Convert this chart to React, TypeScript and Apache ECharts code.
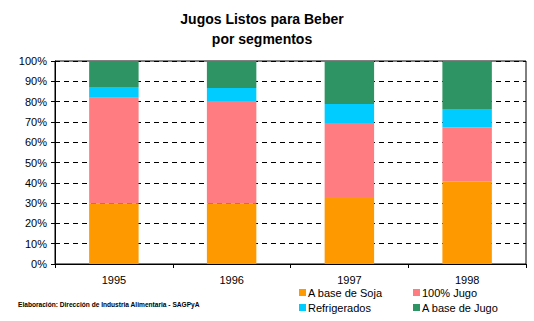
import React, { useEffect, useRef } from "react";
import * as echarts from "echarts";

const categories = ["1995", "1996", "1997", "1998"];
const seriesNames = ["A base de Soja", "100% Jugo", "Refrigerados", "A base de Jugo"];
const soja = [29.7, 29.7, 33.0, 40.7];
const jugo100 = [52.2, 50.6, 36.5, 26.5];
const refrigerados = [5.3, 6.4, 9.3, 9.2];
const baseJugo = [12.8, 13.3, 21.2, 23.6];
const yTicks = [0, 10, 20, 30, 40, 50, 60, 70, 80, 90, 100];
const colors = ["#FF9900", "#FF7C80", "#00CCFF", "#2E9463"];

export default function App() {
  const ref = useRef<HTMLDivElement>(null);
  useEffect(() => {
    if (!ref.current) return;
    const chart = echarts.init(ref.current, null, { renderer: "svg" });
    const font = "'Liberation Sans', Arial, sans-serif";
    const values = [soja, jugo100, refrigerados, baseJugo];
    const legendPos = [
      { left: 299, top: 287 },
      { left: 413, top: 287 },
      { left: 299, top: 302 },
      { left: 413, top: 302 },
    ];
    chart.setOption({
      animation: false,
      backgroundColor: "#ffffff",
      textStyle: { fontFamily: font },
      graphic: [
        {
          type: "text",
          x: 262,
          y: 19,
          style: {
            text: "Jugos Listos para Beber",
            font: `bold 14px ${font}`,
            fill: "#000",
            align: "center",
            verticalAlign: "middle",
          },
        },
        {
          type: "text",
          x: 262,
          y: 39,
          style: {
            text: "por segmentos",
            font: `bold 14px ${font}`,
            fill: "#000",
            align: "center",
            verticalAlign: "middle",
          },
        },
        {
          type: "text",
          x: 18,
          y: 304,
          style: {
            text: "Elaboración: Dirección de Industria Alimentaria - SAGPyA",
            font: `bold 6.6px ${font}`,
            fill: "#000",
            align: "left",
            verticalAlign: "middle",
          },
        },
      ],
      legend: seriesNames.map((n, i) => ({
        data: [n],
        left: legendPos[i].left,
        top: legendPos[i].top,
        padding: 0,
        icon: "rect",
        itemWidth: 7,
        itemHeight: 7,
        selectedMode: false,
        textStyle: {
          fontSize: 11,
          color: "#000",
          fontFamily: font,
          padding: [0, 0, 0, -3],
        },
      })),
      grid: {
        left: 55,
        right: 8,
        top: 61,
        bottom: 57,
        show: true,
        borderColor: "#000",
        borderWidth: 1,
        containLabel: false,
      },
      xAxis: {
        type: "category",
        data: categories,
        axisLine: { lineStyle: { color: "#000", width: 1 } },
        axisTick: { show: true, length: 4, lineStyle: { color: "#000" } },
        axisLabel: { color: "#000", fontSize: 11, margin: 10, fontFamily: font },
      },
      yAxis: {
        type: "value",
        min: yTicks[0],
        max: yTicks[yTicks.length - 1],
        interval: 10,
        axisLine: { show: true, lineStyle: { color: "#000", width: 1 } },
        axisTick: { show: true, length: 4, lineStyle: { color: "#000" } },
        axisLabel: {
          color: "#000",
          fontSize: 11,
          margin: 8,
          fontFamily: font,
          formatter: (v: number) => `${v}%`,
        },
        splitLine: {
          show: true,
          lineStyle: { color: "#000", type: [5, 4], width: 1 },
        },
      },
      series: seriesNames.map((n, i) => ({
        name: n,
        type: "bar",
        stack: "total",
        barWidth: "42%",
        itemStyle: { color: colors[i] },
        data: values[i],
      })),
    });
    return () => chart.dispose();
  }, []);
  return (
    <div
      ref={ref}
      style={{ position: "fixed", left: 0, top: 0, width: 534, height: 321 }}
    />
  );
}
